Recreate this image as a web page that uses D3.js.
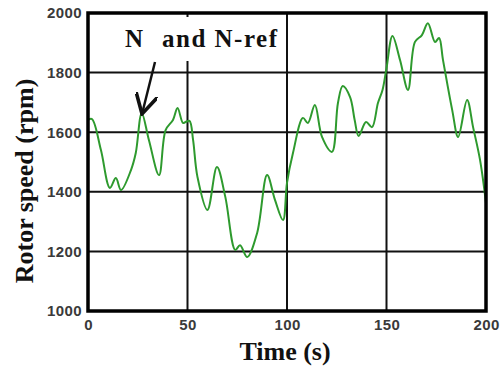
<!DOCTYPE html>
<meta charset="utf-8">
<style>
body { margin: 0; background: #fff; }
.tick text { font-family: "Liberation Sans", Arial, sans-serif; font-weight: bold; font-size: 15px; fill: #3a3a3a; letter-spacing: 0.4px; }
.ttl { font-family: "Liberation Serif", "Times New Roman", serif; font-weight: bold; fill: #111; }
</style>
<body>
<script src="https://d3js.org/d3.v7.min.js"></script>
<script>

// Data
var times = [0, 2, 6.5, 11, 14, 16.6, 21.6, 24, 27, 30.6, 35.7, 39, 42.7, 45, 47.7, 49, 51,
  52.8, 55, 60, 64.8, 69, 74, 76.4, 80, 85, 90, 94, 98,
  100, 103, 108, 110.5, 114, 117.6, 122.6, 125.6, 128, 131.7, 134, 136, 139.7, 142.7, 145.7, 148, 150,
  153, 156.8, 160.8, 164.3, 167.8, 170.8, 174.4, 176.4, 178.4, 183, 186, 190.5, 193.5, 197, 200];
var speed = [1641, 1644, 1540, 1413, 1446, 1406, 1473, 1530, 1664, 1574, 1456, 1607, 1641, 1681, 1631, 1634, 1638,
  1574, 1450, 1339, 1483, 1383, 1205, 1221, 1181, 1262, 1456, 1372, 1305,
  1430, 1530, 1648, 1631, 1691, 1584, 1534, 1698, 1755, 1718, 1641, 1587, 1634, 1617, 1698, 1742, 1815,
  1923, 1842, 1742, 1903, 1926, 1966, 1903, 1916, 1842, 1675, 1584, 1708, 1617, 1507, 1362];
var xTicks = [0, 50, 100, 150, 200];
var yTicks = [1000, 1200, 1400, 1600, 1800, 2000];

var margin = {top: 13, right: 17, bottom: 61, left: 88},
    width = 503 - margin.left - margin.right,
    height = 372 - margin.top - margin.bottom;

var x = d3.scaleLinear().domain([0, 200]).range([0, width]);
var y = d3.scaleLinear().domain([1000, 2000]).range([height, 0]);

var svg = d3.select("body").append("svg")
    .attr("width", 503)
    .attr("height", 372)
  .append("g")
    .attr("transform", "translate(" + margin.left + "," + margin.top + ")");

// grid
svg.selectAll(".hgrid").data(yTicks).enter().append("line")
    .attr("x1", 0).attr("x2", width)
    .attr("y1", function(d) { return y(d); }).attr("y2", function(d) { return y(d); })
    .attr("stroke", "#111").attr("stroke-width", 2);
svg.selectAll(".vgrid").data(xTicks).enter().append("line")
    .attr("y1", 0).attr("y2", height)
    .attr("x1", function(d) { return x(d); }).attr("x2", function(d) { return x(d); })
    .attr("stroke", "#111").attr("stroke-width", 2);

// white box behind the annotation
svg.append("rect")
    .attr("x", 32).attr("y", 4).attr("width", 158).attr("height", 44)
    .attr("fill", "#fff");

// curve
var line = d3.line()
    .x(function(d, i) { return x(times[i]); })
    .y(function(d) { return y(d); })
    .curve(d3.curveCatmullRom);
svg.append("path")
    .datum(speed)
    .attr("fill", "none")
    .attr("stroke", "#2e9a2e")
    .attr("stroke-width", 2)
    .attr("d", line);

// frame
svg.append("rect")
    .attr("width", width).attr("height", height)
    .attr("fill", "none").attr("stroke", "#000").attr("stroke-width", 3.5);

// axes (labels only)
svg.append("g")
    .attr("transform", "translate(0," + height + ")")
    .call(d3.axisBottom(x).tickValues(xTicks).tickSize(0).tickPadding(8).tickFormat(d3.format("d")))
    .call(function(g) { g.select(".domain").remove(); });
svg.append("g")
    .call(d3.axisLeft(y).tickValues(yTicks).tickSize(0).tickPadding(6).tickFormat(d3.format("d")))
    .call(function(g) { g.select(".domain").remove(); });

// annotation
svg.append("text").attr("class", "ttl")
    .attr("x", 37).attr("y", 34)
    .style("font-size", "25px")
    .attr("textLength", 20)
    .text("N");
svg.append("text").attr("class", "ttl")
    .attr("x", 74).attr("y", 34)
    .style("font-size", "25px")
    .attr("textLength", 115)
    .text("and N-ref");

svg.append("defs").append("marker")
    .attr("id", "arr").attr("viewBox", "0 0 10 10")
    .attr("refX", 9).attr("refY", 5)
    .attr("markerWidth", 9).attr("markerHeight", 9)
    .attr("orient", "auto")
  .append("path")
    .attr("d", "M0,0 L9,5 L0,10")
    .attr("fill", "none").attr("stroke", "#111").attr("stroke-width", 1.6);
svg.append("line")
    .attr("x1", 67).attr("y1", 49).attr("x2", 54).attr("y2", 101)
    .attr("stroke", "#111").attr("stroke-width", 2.5)
    .attr("marker-end", "url(#arr)");

// axis titles
svg.append("text").attr("class", "ttl")
    .attr("x", 197).attr("y", height + 49)
    .attr("text-anchor", "middle")
    .style("font-size", "26px")
    .text("Time (s)");
svg.append("text").attr("class", "ttl")
    .attr("transform", "translate(-55," + 168 + ") rotate(-90)")
    .attr("text-anchor", "middle")
    .style("font-size", "26px")
    .text("Rotor speed (rpm)");

</script>
</body>
